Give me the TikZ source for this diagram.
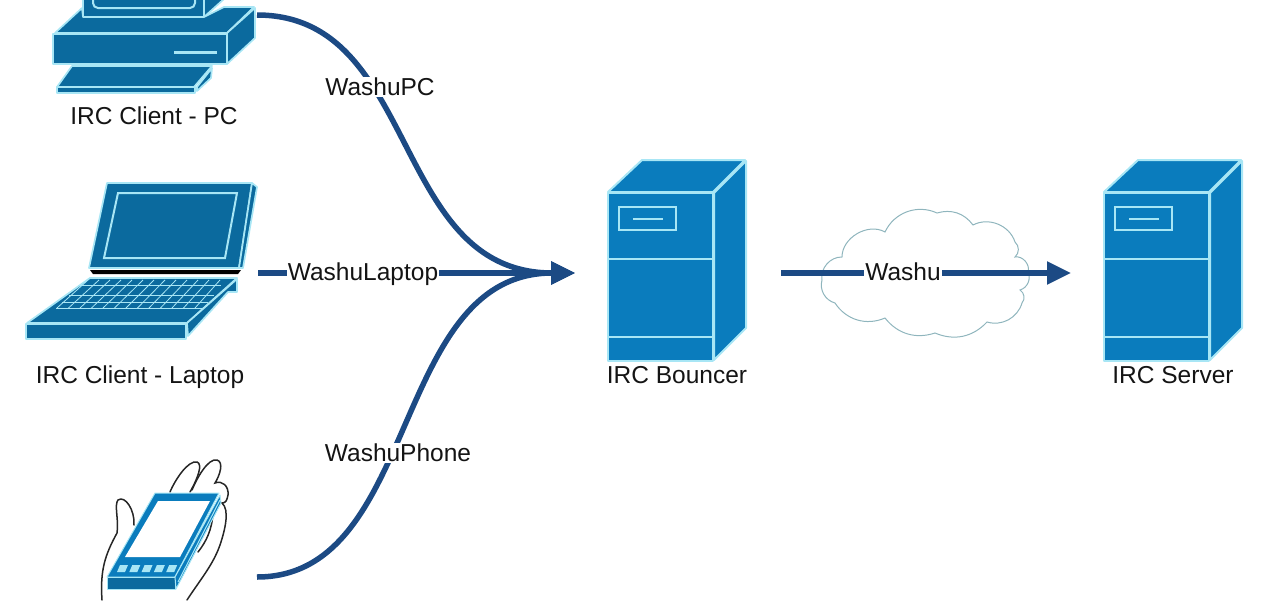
\documentclass[tikz,border=0pt]{standalone}
\usepackage{fontspec}
\setmainfont{Liberation Sans}
\usepackage{xcolor}
\usetikzlibrary{arrows.meta,positioning}
\definecolor{ircdark}{HTML}{0B6A9E}
\definecolor{ircblue}{HTML}{0A7CBD}
\definecolor{irclight}{HTML}{A8E6F5}
\definecolor{ircline}{HTML}{1C4A84}
\definecolor{ircsky}{HTML}{8FB5BD}

\begin{document}
\begin{tikzpicture}[
  x=1pt, y=-1pt,
  anchorbox/.style={minimum height=2pt, inner sep=0pt, outer sep=0pt},
  caption/.style={font=\fontsize{24.5}{28}\selectfont, text=black!92, inner sep=0pt},
  wire/.style={line width=5.5pt, ircline},
  tipwire/.style={wire, -{Triangle[length=24pt,width=22pt]}},
  wirelabel/.style={caption, fill=white, inner sep=1pt},
  pcpart/.style={fill=ircdark, draw=irclight, line width=1.7pt, line join=round},
  srvpart/.style={fill=ircblue, draw=irclight, line width=2pt, line join=round},
  litepen/.style={draw=irclight, line width=2pt},
  keypen/.style={draw=irclight, line width=0.8pt},
  handpen/.style={draw=black!85, line width=1.5pt, line cap=round}
]
\useasboundingbox (0,0) rectangle (1280,600);
\clip (0,0) rectangle (1280,600);

% connection points of the icons
\node[anchorbox, minimum width=203pt] (pc) at (155.5,15) {};
\node[anchorbox, minimum width=236pt] (laptop) at (140,273) {};
\node[anchorbox, minimum width=154pt] (phone) at (180,577) {};
\node[anchorbox, minimum width=206pt] (bouncer) at (678,273) {};
\node[anchorbox, minimum width=204pt] (server) at (1173,273) {};

% PC
\draw[pcpart] (83,-5) -- (83,17) -- (204,17) -- (204,-5) -- cycle;
\draw[pcpart] (204,17) -- (224,-1) -- (224,-5) -- (204,-5) -- cycle;
\draw[litepen, rounded corners=5pt] (93,-5) -- (93,8) -- (195,8) -- (195,-5);
\draw[pcpart] (55,33) -- (82,8) -- (83,17) -- (204,17) -- (224,7) -- (254,7) -- (227,33) -- cycle;
\draw[pcpart] (53,34) rectangle (227,64);
\draw[pcpart] (227,33) -- (255,8) -- (255,38) -- (227,64) -- cycle;
\draw[litepen, line width=3pt] (174,52) -- (217,52);
\draw[pcpart] (72,66) -- (212,66) -- (194,87) -- (57,87) -- cycle;
\draw[pcpart] (57,87) rectangle (195,93);
\draw[pcpart] (197,87) -- (212,68) -- (211,78) -- (197,91) -- cycle;

% laptop
\draw[pcpart] (107,183) -- (252,183) -- (239,268) -- (89,268) -- cycle;
\draw[pcpart] (252,183) -- (257,187) -- (243,268) -- (239,268) -- cycle;
\draw[litepen, fill=ircdark] (118,193) -- (237,193) -- (225,258) -- (104,258) -- cycle;
\fill[black] (90,270) -- (241,270) -- (238,274) -- (93,274) -- cycle;
\draw[pcpart] (90,278) -- (237,278) -- (187,323) -- (27,323) -- cycle;
\draw[pcpart] (26,324) rectangle (186,339);
\draw[pcpart] (187,323) -- (237,279) -- (237,292) -- (228,292) -- (188,336) -- cycle;
\foreach \ky/\kl/\kr in {285/78/221,295/69/214,302/62/208,308/56/202}
  \draw[keypen] (\kl,\ky) -- (\kr,\ky);
\foreach \kx in {0,...,12}
  \draw[keypen] ({57+\kx*11.5},308) -- ({88+\kx*11},280);

% phone in the hand
\draw[handpen] (102,600) .. controls (100,570) and (105,555) .. (117,533)
  .. controls (119,520) and (114,505) .. (118,500)
  .. controls (125,495) and (135,510) .. (134,525);
\draw[handpen] (170,492) .. controls (175,480) and (188,460) .. (197,462)
  .. controls (203,464) and (198,478) .. (190,492);
\draw[handpen] (192,490) .. controls (197,478) and (208,458) .. (217,460)
  .. controls (224,462) and (220,475) .. (215,483)
  .. controls (222,480) and (229,486) .. (228,495)
  .. controls (227,500) and (226,503) .. (222,503)
  .. controls (230,510) and (225,530) .. (220,545)
  .. controls (213,565) and (200,580) .. (187,600);
\draw[handpen] (213,513) .. controls (212,530) and (206,542) .. (198,552);
\draw[pcpart, fill=ircblue, line width=1pt] (155,493) -- (219,493) -- (175,577) -- (107,577) -- cycle;
\fill[white] (158,501) -- (210,501) -- (180,557) -- (125,557) -- cycle;
\draw[pcpart, fill=ircdark, line width=1pt] (107,577) rectangle (175,589);
\draw[pcpart, fill=ircblue, line width=1pt] (175,577) -- (220,495) -- (221,503) -- (176,589) -- cycle;
\draw[litepen, line width=1pt] (178,582) -- (220,500);
\foreach \bx in {0,...,4}
  \fill[irclight] ({120+\bx*12.3},565) -- ({128+\bx*12.3},565) -- ({125+\bx*12.3},572) -- ({117+\bx*12.3},572) -- cycle;

% bouncer and server
\foreach \sx in {0,496}
{
  \begin{scope}[xshift=\sx pt]
    \draw[srvpart] (608,192) -- (642,160) -- (745,160) -- (713,192) -- cycle;
    \draw[srvpart] (714,193) -- (746,161) -- (746,328) -- (714,360) -- cycle;
    \draw[srvpart] (608,193) rectangle (713,361);
    \draw[litepen] (608,259) -- (713,259);
    \draw[litepen] (608,337) -- (713,337);
    \draw[litepen] (619,207) rectangle (676,230);
    \draw[litepen] (633,219) -- (663,219);
  \end{scope}
}

% cloud
\draw[ircsky, line width=1pt] (822,280) to[bend left=50] (842,257)
  to[bend left=60] (885,232) to[bend left=45] (937,213) to[bend left=35] (973,225)
  to[bend left=50] (1015,242) to[bend left=50] (1015,257) to[bend left=60] (1028,272)
  to[bend left=50] (1020,290) to[bend left=50] (1022,303) to[bend left=45] (987,322)
  to[bend left=35] (935,333) to[bend left=35] (885,318) to[bend left=40] (835,303)
  to[bend left=45] (822,280);

% connectors
\draw[tipwire] (pc.east) .. controls (420,15) and (390,273) .. (bouncer.west);
\draw[tipwire] (phone.east) .. controls (420,577) and (390,273) .. (bouncer.west);
\draw[tipwire] (laptop.east) -- (bouncer.west);
\draw[tipwire] (bouncer.east) -- (server.west);

% texts
\node[wirelabel] (pclabel) at (380,87) {WashuPC};
\node[wirelabel] (laptoplabel) at (363,274) {WashuLaptop};
\node[wirelabel] (phonelabel) at (398,453) {WashuPhone};
\node[wirelabel] (netlabel) at (903,272) {Washu};
\node[caption] (pccap) at (154,116) {IRC Client - PC};
\node[caption] (laptopcap) at (140,377) {IRC Client - Laptop};
\node[caption] (bouncercap) at (677,375) {IRC Bouncer};
\node[caption] (servercap) at (1173,375) {IRC Server};
\end{tikzpicture}
\end{document}
